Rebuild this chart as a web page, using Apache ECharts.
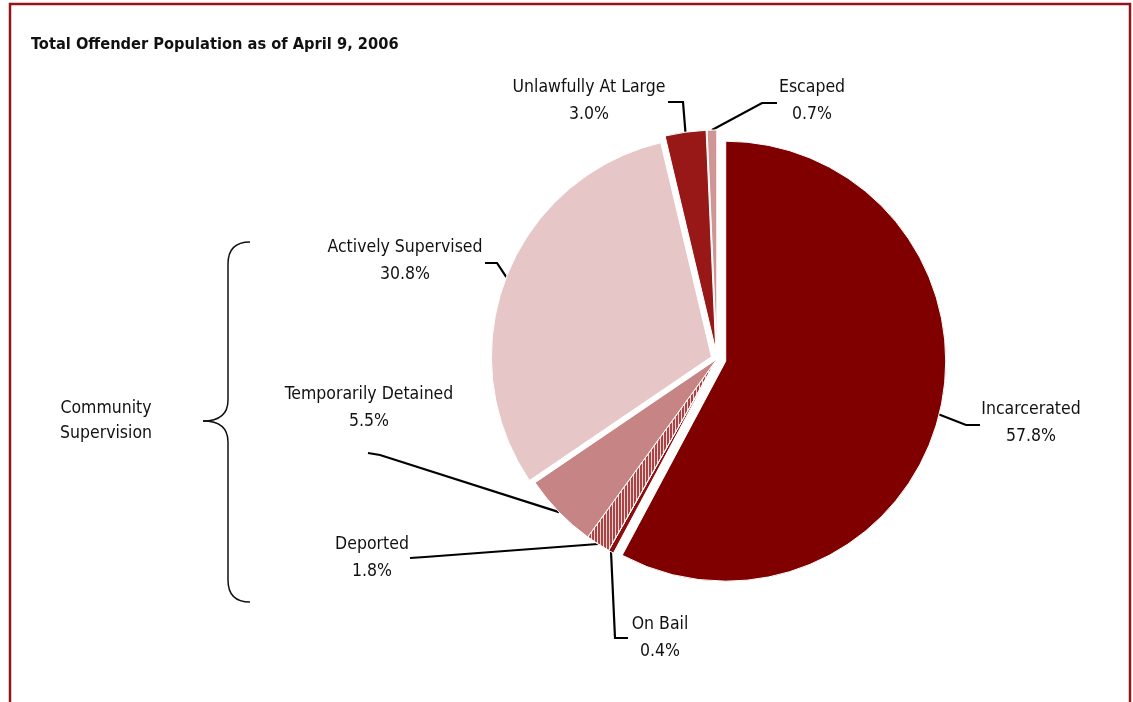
<!DOCTYPE html>
<html>
<head>
<meta charset="utf-8">
<script src="https://cdn.jsdelivr.net/npm/echarts@6/dist/echarts.min.js"></script>
<style>
  html, body { margin: 0; padding: 0; background: #fff; }
  #chart { width: 1133px; height: 702px; }
</style>
</head>
<body>
<div id="chart"></div>
<script>
// 数据
const categories = ['Incarcerated', 'On Bail', 'Deported', 'Temporarily Detained', 'Actively Supervised', 'Unlawfully At Large', 'Escaped'];
const shares = [57.8, 0.4, 1.8, 5.5, 30.8, 3.0, 0.7];

// 爆炸偏移 (px)
const explode = [9, 0, 0, 0, 6, 9, 9];
const colors = ['#800000', '#8c0e0e', '#a84444', '#c68484', '#e6c6c6', '#981818', '#d09595'];
const FONT = '"DejaVu Sans Condensed", "Liberation Sans Narrow", "Liberation Sans", Arial, sans-serif';

// label place + leader line (elbow, end) per slice
const labelPos = [
  { x: 1031, y: 423, elbow: [966, 425], end: [980, 425] },
  { x: 660, y: 638, elbow: [615, 638], end: [628, 638] },
  { x: 372, y: 558, elbow: [425, 557], end: [410, 558] },
  { x: 369, y: 408, elbow: [380, 455], end: [368, 453] },
  { x: 405, y: 261, elbow: [497, 263], end: [485, 263] },
  { x: 589, y: 101, elbow: [683, 102], end: [668, 102] },
  { x: 812, y: 101, elbow: [762, 103], end: [777, 103] }
];

const CX = 717, CY = 359, R = 220;

const chart = echarts.init(document.getElementById('chart'));

const total = shares.reduce((a, b) => a + b, 0);
let acc = 0;
const series = categories.map((name, k) => {
  // 每个扇区单独一个 series, 沿中线方向偏移
  const mid = (acc + shares[k] / 2) / total * Math.PI * 2;
  acc += shares[k];
  const dx = Math.sin(mid) * explode[k];
  const dy = -Math.cos(mid) * explode[k];
  const data = categories.map((n, i) => {
    if (i !== k) {
      return {
        name: n, value: shares[i],
        itemStyle: { color: 'rgba(0,0,0,0)', borderWidth: 0 },
        label: { show: false }, labelLine: { show: false }
      };
    }
    const item = { name: n, value: shares[i], itemStyle: { color: colors[i] } };
    if (n === 'Deported') {
      item.itemStyle.decal = {
        symbol: 'rect',
        symbolSize: 1,
        color: 'rgba(255,235,235,0.85)',
        dashArrayX: [1, 2],
        dashArrayY: [4, 0]
      };
    }
    return item;
  });
  return {
    type: 'pie',
    center: [CX + dx, CY + dy],
    radius: [0, R],
    startAngle: 90,
    clockwise: true,
    silent: true,
    avoidLabelOverlap: false,
    itemStyle: { borderColor: '#fff', borderWidth: 1 },
    label: {
      show: true,
      position: 'outside',
      fontFamily: FONT,
      fontSize: 17.5,
      lineHeight: 27,
      color: '#111',
      align: 'center',
      formatter: p => p.name + '\n' + p.value.toFixed(1) + '%'
    },
    labelLine: {
      show: true,
      length: 10,
      length2: 10,
      lineStyle: { color: '#000', width: 2.2 }
    },
    labelLayout: params => {
      const lp = labelPos[params.dataIndex];
      const start = params.labelLinePoints ? params.labelLinePoints[0] : lp.elbow;
      return {
        x: lp.x,
        y: lp.y,
        align: 'center',
        verticalAlign: 'middle',
        labelLinePoints: [start, lp.elbow, lp.end]
      };
    },
    emphasis: { disabled: true },
    data: data
  };
});

const braceStyle = { fill: 'none', stroke: '#111', lineWidth: 1.5 };
function curve(x1, y1, cx1, cy1, cx2, cy2, x2, y2) {
  return { type: 'bezierCurve', silent: true, style: braceStyle,
    shape: { x1: x1, y1: y1, cpx1: cx1, cpy1: cy1, cpx2: cx2, cpy2: cy2, x2: x2, y2: y2 } };
}
function seg(x1, y1, x2, y2) {
  return { type: 'line', silent: true, style: braceStyle, shape: { x1: x1, y1: y1, x2: x2, y2: y2 } };
}

const option = {
  animation: false,
  title: {
    text: 'Total Offender Population as of April 9, 2006',
    left: 26,
    top: 32,
    textStyle: { fontFamily: FONT, fontSize: 16.3, fontWeight: 'bold', color: '#111' }
  },
  graphic: [
    {
      type: 'rect',
      silent: true,
      shape: { x: 10, y: 4, width: 1120, height: 720 },
      style: { fill: 'none', stroke: '#931515', lineWidth: 2.5 }
    },
    curve(250, 242, 234, 242, 228, 250, 228, 264),
    seg(228, 264, 228, 400),
    curve(228, 400, 228, 414, 220, 421, 203, 421),
    curve(203, 421, 220, 421, 228, 428, 228, 442),
    seg(228, 442, 228, 580),
    curve(228, 580, 228, 594, 234, 602, 250, 602),
    {
      type: 'text',
      silent: true,
      x: 106,
      y: 421,
      style: {
        text: 'Community\nSupervision',
        align: 'center',
        verticalAlign: 'middle',
        font: '17.5px ' + FONT,
        lineHeight: 25,
        fill: '#111'
      }
    }
  ],
  series: series
};

chart.setOption(option);
</script>
</body>
</html>
